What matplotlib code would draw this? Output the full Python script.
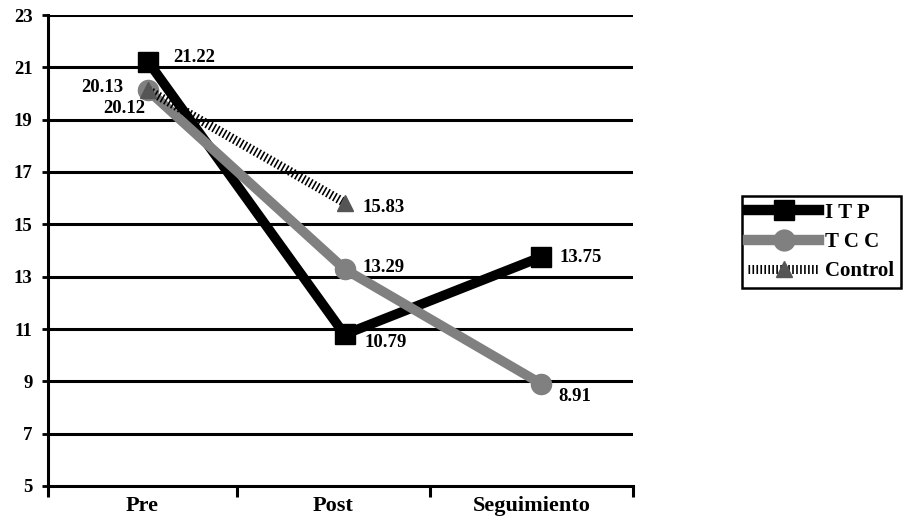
import matplotlib
matplotlib.use("Agg")
import matplotlib.pyplot as plt
from matplotlib.lines import Line2D

# Data
categories = ["Pre", "Post", "Seguimiento"]
itp = [21.22, 10.79, 13.75]
tcc = [20.12, 13.29, 8.91]
control = [20.13, 15.83]
yticks = [5, 7, 9, 11, 13, 15, 17, 19, 21, 23]

plt.rcParams["font.family"] = ["Liberation Serif", "DejaVu Serif"]
plt.rcParams["font.weight"] = "bold"

fig = plt.figure(figsize=(9.16, 5.2), dpi=100)
ax = fig.add_axes([48 / 916, 1 - 486 / 520, (633 - 48) / 916, (486 - 15) / 520])

x = list(range(len(categories)))
HATCH = (0, (0.18, 0.26))

# Horizontal grid lines
for v in yticks[1:]:
    ax.axhline(v, color="black", lw=2.2, zorder=1)

# Series (later series drawn on top)
ax.plot(x, itp, color="black", lw=7, marker="s", markersize=14.5,
        solid_joinstyle="miter", zorder=3)
ax.plot(x, tcc, color="#808080", lw=7, marker="o", markersize=14.5, zorder=4)
ax.plot(x[:len(control)], control, color="black", lw=6.5,
        linestyle=HATCH, dash_capstyle="butt", zorder=5)
ax.plot(x[:len(control)], control, linestyle="none", marker="^",
        markersize=12, color="#555555", zorder=6)

# Value labels
lab_kw = dict(textcoords="offset pixels", fontsize=13.5, fontweight="bold",
              va="baseline", zorder=8)
ax.annotate(f"{itp[0]:.2f}", (x[0], itp[0]), xytext=(25, 0), ha="left", **lab_kw)
ax.annotate(f"{control[0]:.2f}", (x[0], control[0]), xytext=(-25, -2), ha="right", **lab_kw)
ax.annotate(f"{tcc[0]:.2f}", (x[0], tcc[0]), xytext=(-3, -23), ha="right", **lab_kw)
ax.annotate(f"{control[1]:.2f}", (x[1], control[1]), xytext=(18, -9.5), ha="left", **lab_kw)
ax.annotate(f"{tcc[1]:.2f}", (x[1], tcc[1]), xytext=(18, -3), ha="left", **lab_kw)
ax.annotate(f"{itp[1]:.2f}", (x[1], itp[1]), xytext=(20, -12.5), ha="left", **lab_kw)
ax.annotate(f"{itp[2]:.2f}", (x[2], itp[2]), xytext=(18, -5), ha="left", **lab_kw)
ax.annotate(f"{tcc[2]:.2f}", (x[2], tcc[2]), xytext=(17, -17), ha="left", **lab_kw)

# Axes
xmin, xmax = -0.509, 2.468
bounds = [xmin, 0.453, 1.435, xmax]
ax.set_xlim(xmin, xmax)
ax.set_ylim(5, 23)
ax.set_yticks(yticks)
ax.set_yticklabels([str(v) for v in yticks], fontsize=13.5, fontweight="bold")
ax.set_xticks([(a + b) / 2 for a, b in zip(bounds[:-1], bounds[1:])])
ax.set_xticklabels(categories, fontsize=16, fontweight="bold")
ax.tick_params(axis="x", length=0, pad=7)
ax.tick_params(axis="y", length=4, width=2, direction="out", pad=7)
ax.set_xticks(bounds, minor=True)
ax.tick_params(axis="x", which="minor", length=8, width=2.2, direction="out")
for s in ["top", "right"]:
    ax.spines[s].set_visible(False)
for s in ["left", "bottom"]:
    ax.spines[s].set_linewidth(2.2)
    ax.spines[s].set_color("black")

# Legend
handles = [
    Line2D([], [], color="black", lw=7.5, marker="s", markersize=15),
    Line2D([], [], color="#808080", lw=7.5, marker="o", markersize=15),
    Line2D([], [], color="black", lw=6.5, linestyle=HATCH,
           dash_capstyle="butt", marker="^", markersize=12,
           markerfacecolor="#555555", markeredgecolor="#555555"),
]
leg = fig.legend(handles, ["I T P", "T C C", "Control"], loc="center left",
                 bbox_to_anchor=(742 / 916, 1 - 242 / 520),
                 prop={"family": ["Liberation Serif"], "weight": "bold", "size": 15},
                 handlelength=3.4, handletextpad=0.3, borderpad=0.3,
                 labelspacing=0.45, fancybox=False, framealpha=1,
                 edgecolor="black", borderaxespad=0)
leg.get_frame().set_linewidth(1.8)

fig.savefig("out.png", dpi=100)
